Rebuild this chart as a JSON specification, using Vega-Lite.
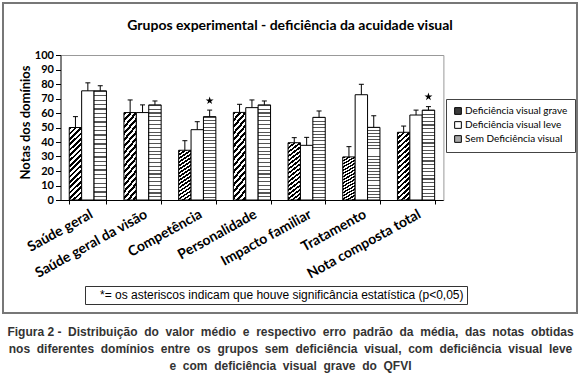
{
  "$schema": "https://vega.github.io/schema/vega-lite/v6.json",
  "width": 574,
  "height": 310,
  "autosize": {"type": "none"},
  "padding": {"left": 3, "top": 3, "right": 3, "bottom": 62},
  "background": "white",
  "config": {
    "view": {"stroke": "#777777", "strokeWidth": 2},
    "font": "Lato"
  },
  "title": {
    "text": "Grupos experimental - deficiência da acuidade visual",
    "anchor": "middle",
    "frame": "group",
    "font": "Lato",
    "fontSize": 14,
    "fontWeight": "bold",
    "color": "black",
    "baseline": "middle",
    "offset": 0,
    "dy": 37
  },
  "datasets": {
    "medias": [
      {"categoria": "Saúde geral", "grupo": "Deficiência visual grave", "valor": 50, "erro": 57.5},
      {"categoria": "Saúde geral", "grupo": "Deficiência visual leve", "valor": 75.3, "erro": 80.8},
      {"categoria": "Saúde geral", "grupo": "Sem Deficiência visual", "valor": 75.3, "erro": 78.8},
      {"categoria": "Saúde geral da visão", "grupo": "Deficiência visual grave", "valor": 60.3, "erro": 69},
      {"categoria": "Saúde geral da visão", "grupo": "Deficiência visual leve", "valor": 60.3, "erro": 65.6},
      {"categoria": "Saúde geral da visão", "grupo": "Sem Deficiência visual", "valor": 65.6, "erro": 68.3},
      {"categoria": "Competência", "grupo": "Deficiência visual grave", "valor": 34.3, "erro": 40.9},
      {"categoria": "Competência", "grupo": "Deficiência visual leve", "valor": 48.5, "erro": 54},
      {"categoria": "Competência", "grupo": "Sem Deficiência visual", "valor": 57.5, "erro": 62},
      {"categoria": "Personalidade", "grupo": "Deficiência visual grave", "valor": 60.4, "erro": 66},
      {"categoria": "Personalidade", "grupo": "Deficiência visual leve", "valor": 63.7, "erro": 69},
      {"categoria": "Personalidade", "grupo": "Sem Deficiência visual", "valor": 65.6, "erro": 68.3},
      {"categoria": "Impacto familiar", "grupo": "Deficiência visual grave", "valor": 39.5, "erro": 43},
      {"categoria": "Impacto familiar", "grupo": "Deficiência visual leve", "valor": 37.7, "erro": 43.2},
      {"categoria": "Impacto familiar", "grupo": "Sem Deficiência visual", "valor": 57, "erro": 61.4},
      {"categoria": "Tratamento", "grupo": "Deficiência visual grave", "valor": 29.7, "erro": 36.8},
      {"categoria": "Tratamento", "grupo": "Deficiência visual leve", "valor": 72.6, "erro": 79.8},
      {"categoria": "Tratamento", "grupo": "Sem Deficiência visual", "valor": 50.1, "erro": 58.1},
      {"categoria": "Nota composta total", "grupo": "Deficiência visual grave", "valor": 46.7, "erro": 51},
      {"categoria": "Nota composta total", "grupo": "Deficiência visual leve", "valor": 58.6, "erro": 62},
      {"categoria": "Nota composta total", "grupo": "Sem Deficiência visual", "valor": 62, "erro": 64.4}
    ],
    "asteriscos": [
      {"categoria": "Competência", "grupo": "Sem Deficiência visual", "asterisco": 68.5, "nota": "*= os asteriscos indicam que houve significância estatística (p<0,05)"},
      {"categoria": "Nota composta total", "grupo": "Sem Deficiência visual", "asterisco": 71.2, "nota": "*= os asteriscos indicam que houve significância estatística (p<0,05)"}
    ]
  },
  "resolve": {"axis": {"y": "independent"}},
  "layer": [
    {
      "data": {"name": "medias"},
      "mark": {"type": "bar", "stroke": "black", "strokeWidth": 1},
      "encoding": {
        "x": {
          "field": "categoria", "type": "nominal",
          "sort": ["Saúde geral", "Saúde geral da visão", "Competência", "Personalidade", "Impacto familiar", "Tratamento", "Nota composta total"],
          "scale": {"range": [57.5, 440.4], "paddingInner": 0.32, "paddingOuter": 0.16},
          "axis": {
            "orient": "bottom", "offset": -113, "tickBand": "extent", "tickSize": 4, "tickColor": "black",
            "domainColor": "black", "labelAngle": -29, "labelFont": "Lato", "labelFontWeight": "bold",
            "labelFontSize": 14, "labelColor": "black", "labelPadding": 3, "labelLimit": 300, "grid": false,
            "title": ["Figura 2 -\u00a0 Distribuição\u00a0 do\u00a0 valor\u00a0 médio\u00a0 e\u00a0 respectivo\u00a0 erro\u00a0 padrão\u00a0 da\u00a0 média,\u00a0 das\u00a0 notas\u00a0 obtidas", "nos\u00a0 diferentes\u00a0 domínios\u00a0 entre\u00a0 os\u00a0 grupos\u00a0 sem\u00a0 deficiência\u00a0 visual,\u00a0 com\u00a0 deficiência\u00a0 visual\u00a0 leve", "e\u00a0 com\u00a0 deficiência\u00a0 visual\u00a0 grave\u00a0 do\u00a0 QFVI"],
            "titleFont": "Liberation Sans", "titleFontSize": 12, "titleFontWeight": "bold", "titleColor": "#333333",
            "titleX": 287, "titleY": 131.7, "titleBaseline": "middle", "titleAlign": "center", "titleAngle": 0,
            "titleLineHeight": 16.7, "titleLimit": 1000
          }
        },
        "xOffset": {
          "field": "grupo", "type": "nominal",
          "sort": ["Deficiência visual grave", "Deficiência visual leve", "Sem Deficiência visual"],
          "scale": {"paddingInner": 0, "paddingOuter": 0}
        },
        "y": {
          "field": "valor", "type": "quantitative",
          "scale": {"domain": [0, 100], "range": [197, 52], "nice": false, "zero": true},
          "axis": {
            "orient": "left", "offset": -57.5, "values": [0, 10, 20, 30, 40, 50, 60, 70, 80, 90, 100],
            "tickSize": 5, "tickColor": "black", "domainColor": "black", "labelFont": "Lato",
            "labelFontWeight": "bold", "labelFontSize": 11, "labelColor": "black", "labelPadding": 2,
            "grid": true, "gridColor": "#999999", "gridWidth": 1,
            "gridOpacity": {"condition": {"test": "datum.value === 100", "value": 1}, "value": 0},
            "title": "Notas dos domínios", "titleFont": "Lato", "titleFontSize": 13, "titleFontWeight": "bold",
            "titleColor": "black", "titleX": -35.5, "titleY": 119, "titleBaseline": "middle", "titleAlign": "center", "titleAngle": -90
          }
        },
        "fill": {
          "field": "grupo", "type": "nominal",
          "sort": ["Deficiência visual grave", "Deficiência visual leve", "Sem Deficiência visual"],
          "scale": {"domain": ["Deficiência visual grave", "Deficiência visual leve", "Sem Deficiência visual"], "range": ["#3a3a3a", "#ffffff", "#a8a8a8"]},
          "legend": {
            "orient": "none", "legendX": 443, "legendY": 96, "title": null, "strokeColor": "#444444", "padding": 7,
            "symbolType": "square", "symbolSize": 45, "symbolStrokeColor": "black", "symbolStrokeWidth": 1,
            "labelFont": "Lato", "labelFontSize": 10, "labelColor": "black", "labelOffset": 2, "rowPadding": 2, "labelLimit": 300
          },
          "condition": [
            {"test": "datum.grupo === 'Deficiência visual grave'", "value": {"gradient": "linear", "x1": 0, "y1": 0, "x2": 1, "y2": 6, "stops": [
              {"offset": 0, "color": "black"},
              {"offset": 0.006, "color": "black"}, {"offset": 0.006, "color": "white"},
              {"offset": 0.012, "color": "white"}, {"offset": 0.012, "color": "black"},
              {"offset": 0.018, "color": "black"}, {"offset": 0.018, "color": "white"},
              {"offset": 0.024, "color": "white"}, {"offset": 0.024, "color": "black"},
              {"offset": 0.03, "color": "black"}, {"offset": 0.03, "color": "white"},
              {"offset": 0.036, "color": "white"}, {"offset": 0.036, "color": "black"},
              {"offset": 0.042, "color": "black"}, {"offset": 0.042, "color": "white"},
              {"offset": 0.048, "color": "white"}, {"offset": 0.048, "color": "black"},
              {"offset": 0.054, "color": "black"}, {"offset": 0.054, "color": "white"},
              {"offset": 0.06, "color": "white"}, {"offset": 0.06, "color": "black"},
              {"offset": 0.066, "color": "black"}, {"offset": 0.066, "color": "white"},
              {"offset": 0.072, "color": "white"}, {"offset": 0.072, "color": "black"},
              {"offset": 0.078, "color": "black"}, {"offset": 0.078, "color": "white"},
              {"offset": 0.084, "color": "white"}, {"offset": 0.084, "color": "black"},
              {"offset": 0.09, "color": "black"}, {"offset": 0.09, "color": "white"},
              {"offset": 0.096, "color": "white"}, {"offset": 0.096, "color": "black"},
              {"offset": 0.102, "color": "black"}, {"offset": 0.102, "color": "white"},
              {"offset": 0.108, "color": "white"}, {"offset": 0.108, "color": "black"},
              {"offset": 0.114, "color": "black"}, {"offset": 0.114, "color": "white"},
              {"offset": 0.12, "color": "white"}, {"offset": 0.12, "color": "black"},
              {"offset": 0.126, "color": "black"}, {"offset": 0.126, "color": "white"},
              {"offset": 0.132, "color": "white"}, {"offset": 0.132, "color": "black"},
              {"offset": 0.138, "color": "black"}, {"offset": 0.138, "color": "white"},
              {"offset": 0.144, "color": "white"}, {"offset": 0.144, "color": "black"},
              {"offset": 0.15, "color": "black"}, {"offset": 0.15, "color": "white"},
              {"offset": 0.156, "color": "white"}, {"offset": 0.156, "color": "black"},
              {"offset": 0.162, "color": "black"}, {"offset": 0.162, "color": "white"},
              {"offset": 0.168, "color": "white"}, {"offset": 0.168, "color": "black"},
              {"offset": 0.174, "color": "black"}, {"offset": 0.174, "color": "white"},
              {"offset": 0.18, "color": "white"}, {"offset": 0.18, "color": "black"},
              {"offset": 0.186, "color": "black"}, {"offset": 0.186, "color": "white"},
              {"offset": 0.192, "color": "white"}
            ]}},
            {"test": "datum.grupo === 'Sem Deficiência visual'", "value": {"gradient": "linear", "x1": 0, "y1": 0, "x2": 0, "y2": 1, "stops": [
              {"offset": 0, "color": "#555555"}, {"offset": 0.012, "color": "#555555"}, {"offset": 0.012, "color": "white"}, {"offset": 0.04, "color": "white"},
              {"offset": 0.04, "color": "#555555"}, {"offset": 0.052, "color": "#555555"}, {"offset": 0.052, "color": "white"}, {"offset": 0.08, "color": "white"},
              {"offset": 0.08, "color": "#555555"}, {"offset": 0.092, "color": "#555555"}, {"offset": 0.092, "color": "white"}, {"offset": 0.12, "color": "white"},
              {"offset": 0.12, "color": "#555555"}, {"offset": 0.132, "color": "#555555"}, {"offset": 0.132, "color": "white"}, {"offset": 0.16, "color": "white"},
              {"offset": 0.16, "color": "#555555"}, {"offset": 0.172, "color": "#555555"}, {"offset": 0.172, "color": "white"}, {"offset": 0.2, "color": "white"},
              {"offset": 0.2, "color": "#555555"}, {"offset": 0.212, "color": "#555555"}, {"offset": 0.212, "color": "white"}, {"offset": 0.24, "color": "white"},
              {"offset": 0.24, "color": "#555555"}, {"offset": 0.252, "color": "#555555"}, {"offset": 0.252, "color": "white"}, {"offset": 0.28, "color": "white"},
              {"offset": 0.28, "color": "#555555"}, {"offset": 0.292, "color": "#555555"}, {"offset": 0.292, "color": "white"}, {"offset": 0.32, "color": "white"},
              {"offset": 0.32, "color": "#555555"}, {"offset": 0.332, "color": "#555555"}, {"offset": 0.332, "color": "white"}, {"offset": 0.36, "color": "white"},
              {"offset": 0.36, "color": "#555555"}, {"offset": 0.372, "color": "#555555"}, {"offset": 0.372, "color": "white"}, {"offset": 0.4, "color": "white"},
              {"offset": 0.4, "color": "#555555"}, {"offset": 0.412, "color": "#555555"}, {"offset": 0.412, "color": "white"}, {"offset": 0.44, "color": "white"},
              {"offset": 0.44, "color": "#555555"}, {"offset": 0.452, "color": "#555555"}, {"offset": 0.452, "color": "white"}, {"offset": 0.48, "color": "white"},
              {"offset": 0.48, "color": "#555555"}, {"offset": 0.492, "color": "#555555"}, {"offset": 0.492, "color": "white"}, {"offset": 0.52, "color": "white"},
              {"offset": 0.52, "color": "#555555"}, {"offset": 0.532, "color": "#555555"}, {"offset": 0.532, "color": "white"}, {"offset": 0.56, "color": "white"},
              {"offset": 0.56, "color": "#555555"}, {"offset": 0.572, "color": "#555555"}, {"offset": 0.572, "color": "white"}, {"offset": 0.6, "color": "white"},
              {"offset": 0.6, "color": "#555555"}, {"offset": 0.612, "color": "#555555"}, {"offset": 0.612, "color": "white"}, {"offset": 0.64, "color": "white"},
              {"offset": 0.64, "color": "#555555"}, {"offset": 0.652, "color": "#555555"}, {"offset": 0.652, "color": "white"}, {"offset": 0.68, "color": "white"},
              {"offset": 0.68, "color": "#555555"}, {"offset": 0.692, "color": "#555555"}, {"offset": 0.692, "color": "white"}, {"offset": 0.72, "color": "white"},
              {"offset": 0.72, "color": "#555555"}, {"offset": 0.732, "color": "#555555"}, {"offset": 0.732, "color": "white"}, {"offset": 0.76, "color": "white"},
              {"offset": 0.76, "color": "#555555"}, {"offset": 0.772, "color": "#555555"}, {"offset": 0.772, "color": "white"}, {"offset": 0.8, "color": "white"},
              {"offset": 0.8, "color": "#555555"}, {"offset": 0.812, "color": "#555555"}, {"offset": 0.812, "color": "white"}, {"offset": 0.84, "color": "white"},
              {"offset": 0.84, "color": "#555555"}, {"offset": 0.852, "color": "#555555"}, {"offset": 0.852, "color": "white"}, {"offset": 0.88, "color": "white"},
              {"offset": 0.88, "color": "#555555"}, {"offset": 0.892, "color": "#555555"}, {"offset": 0.892, "color": "white"}, {"offset": 0.92, "color": "white"},
              {"offset": 0.92, "color": "#555555"}, {"offset": 0.932, "color": "#555555"}, {"offset": 0.932, "color": "white"}, {"offset": 0.96, "color": "white"},
              {"offset": 0.96, "color": "#555555"}, {"offset": 0.972, "color": "#555555"}, {"offset": 0.972, "color": "white"}, {"offset": 1, "color": "white"}
            ]}}
          ]
        }
      }
    },
    {
      "data": {"name": "medias"},
      "mark": {"type": "rule", "color": "black", "strokeWidth": 1},
      "encoding": {
        "x": {"field": "categoria", "type": "nominal", "sort": ["Saúde geral", "Saúde geral da visão", "Competência", "Personalidade", "Impacto familiar", "Tratamento", "Nota composta total"]},
        "xOffset": {"field": "grupo", "type": "nominal", "sort": ["Deficiência visual grave", "Deficiência visual leve", "Sem Deficiência visual"]},
        "y": {"field": "valor", "type": "quantitative", "axis": null},
        "y2": {"field": "erro"}
      }
    },
    {
      "data": {"name": "medias"},
      "mark": {"type": "tick", "color": "black", "thickness": 1, "size": 5, "orient": "horizontal", "opacity": 1},
      "encoding": {
        "x": {"field": "categoria", "type": "nominal", "sort": ["Saúde geral", "Saúde geral da visão", "Competência", "Personalidade", "Impacto familiar", "Tratamento", "Nota composta total"]},
        "xOffset": {"field": "grupo", "type": "nominal", "sort": ["Deficiência visual grave", "Deficiência visual leve", "Sem Deficiência visual"]},
        "y": {
          "field": "erro", "type": "quantitative",
          "axis": {"orient": "right", "offset": -133.6, "values": [100], "ticks": false, "labels": false, "domainColor": "#999999", "domainWidth": 1, "grid": false, "title": null}
        }
      }
    },
    {
      "data": {"name": "asteriscos"},
      "mark": {"type": "point", "filled": true, "color": "black", "opacity": 1, "size": 70},
      "encoding": {
        "x": {"field": "categoria", "type": "nominal", "sort": ["Saúde geral", "Saúde geral da visão", "Competência", "Personalidade", "Impacto familiar", "Tratamento", "Nota composta total"]},
        "xOffset": {"field": "grupo", "type": "nominal", "sort": ["Deficiência visual grave", "Deficiência visual leve", "Sem Deficiência visual"]},
        "y": {"field": "asterisco", "type": "quantitative", "axis": null},
        "shape": {
          "field": "nota", "type": "nominal",
          "scale": {"range": ["M0,-1L0.2245,-0.309L0.951,-0.309L0.363,0.118L0.588,0.809L0,0.382L-0.588,0.809L-0.363,0.118L-0.951,-0.309L-0.2245,-0.309Z"]},
          "legend": {
            "orient": "none", "legendX": 82, "legendY": 283, "title": null, "strokeColor": "#333333", "fillColor": "white",
            "padding": 3, "symbolOpacity": 0, "symbolSize": 0, "symbolStrokeWidth": 0, "labelOffset": 0,
            "labelFont": "Liberation Sans", "labelFontSize": 12, "labelColor": "black", "labelLimit": 600
          }
        }
      }
    }
  ]
}
